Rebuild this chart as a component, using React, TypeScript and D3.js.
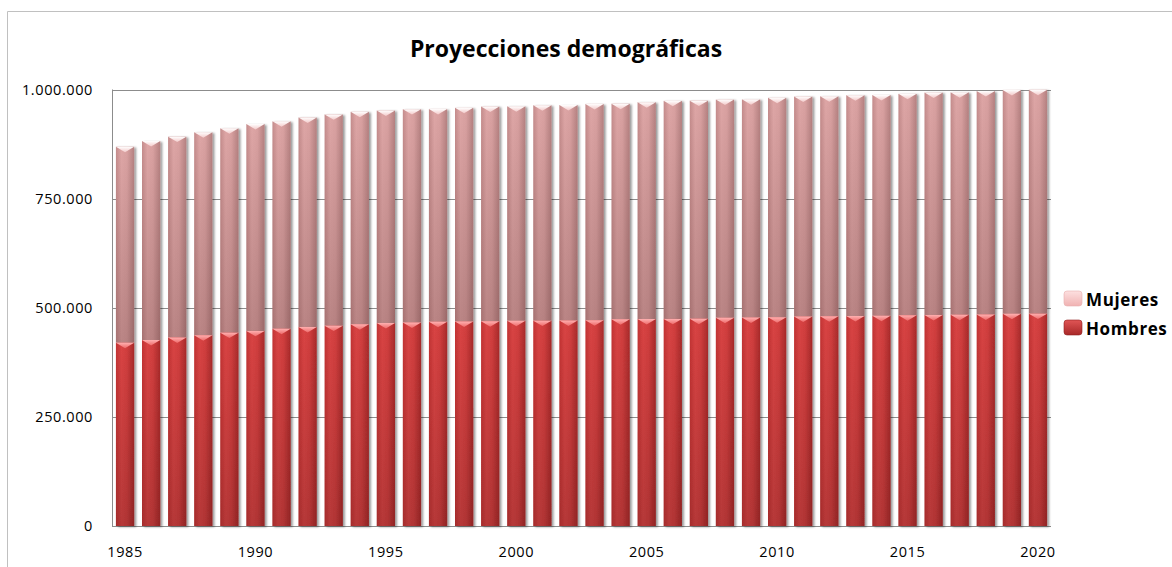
import React from "react";
import * as d3 from "d3";

const years: number[] = [
  1985, 1986, 1987, 1988, 1989, 1990, 1991, 1992, 1993, 1994, 1995, 1996,
  1997, 1998, 1999, 2000, 2001, 2002, 2003, 2004, 2005, 2006, 2007, 2008,
  2009, 2010, 2011, 2012, 2013, 2014, 2015, 2016, 2017, 2018, 2019, 2020,
];

const hombres: number[] = [
  420000, 426000, 432000, 437000, 443000, 447000, 452000, 456000, 459000, 462000, 465000, 466000,
  468000, 468500, 469000, 470000, 470500, 471000, 471500, 473500, 474000, 474500, 475000, 477000,
  477500, 478000, 480000, 480500, 481000, 481500, 483000, 483500, 484000, 484500, 486000, 486500,
];

const mujeres: number[] = [
  449000, 456000, 460000, 465000, 468000, 474000, 475000, 480000, 484000, 487000, 487000, 489000,
  487500, 489500, 492000, 491500, 493500, 493500, 495500, 494000, 497000, 499500, 499500, 500000,
  500000, 503000, 504000, 504000, 506000, 506000, 507000, 509500, 509500, 512000, 513000, 513000,
];

const yTicks: number[] = [0, 250000, 500000, 750000, 1000000];
const xTickYears: number[] = [1985, 1990, 1995, 2000, 2005, 2010, 2015, 2020];
const seriesNames: string[] = ["Mujeres", "Hombres"];
const title = "Proyecciones demográficas";

const W = 1172;
const H = 567;
const plot = { left: 112, right: 1051, top: 89.5, bottom: 526 };

const fmt = d3.formatLocale({ decimal: ",", thousands: ".", grouping: [3], currency: ["", "€"] }).format(",");

export default function App() {
  const x = d3
    .scaleBand<number>()
    .domain(years)
    .range([plot.left, plot.right])
    .paddingInner(0.3)
    .paddingOuter(0.15);
  const y = d3.scaleLinear().domain([0, 1000000]).range([plot.bottom, plot.top]);
  const bw = x.bandwidth();

  const stack = d3
    .stack<any>()
    .keys(["hombres", "mujeres"])(years.map((yr, i) => ({ year: yr, hombres: hombres[i], mujeres: mujeres[i] })));

  const font = "'Open Sans', 'Liberation Sans', sans-serif";

  return (
    <svg width={W} height={H} style={{ position: "absolute", left: 0, top: 0, background: "#fff" }}>
      <defs>
        <linearGradient id="mujH" x1="0" x2="1" y1="0" y2="0">
          <stop offset="0" stopColor="#c48c8c" />
          <stop offset="0.3" stopColor="#dea6a6" />
          <stop offset="0.6" stopColor="#d9a1a1" />
          <stop offset="1" stopColor="#b58181" />
        </linearGradient>
        <linearGradient id="homH" x1="0" x2="1" y1="0" y2="0">
          <stop offset="0" stopColor="#c23333" />
          <stop offset="0.3" stopColor="#d94444" />
          <stop offset="0.6" stopColor="#d13e3e" />
          <stop offset="1" stopColor="#a82a2a" />
        </linearGradient>
        <linearGradient id="darkV" x1="0" x2="0" y1="0" y2="1">
          <stop offset="0" stopColor="#3a1010" stopOpacity="0" />
          <stop offset="1" stopColor="#3a1010" stopOpacity="0.22" />
        </linearGradient>
        <linearGradient id="bevM" x1="0" x2="0" y1="0" y2="1">
          <stop offset="0" stopColor="#ffffff" />
          <stop offset="1" stopColor="#f3caca" />
        </linearGradient>
        <linearGradient id="bevH" x1="0" x2="0" y1="0" y2="1">
          <stop offset="0" stopColor="#ffb0b0" />
          <stop offset="1" stopColor="#ee6a6a" />
        </linearGradient>
        <linearGradient id="legM" x1="0" x2="0" y1="0" y2="1">
          <stop offset="0" stopColor="#fde0e0" />
          <stop offset="1" stopColor="#f0b2b2" />
        </linearGradient>
        <linearGradient id="legH" x1="0" x2="0" y1="0" y2="1">
          <stop offset="0" stopColor="#e05555" />
          <stop offset="1" stopColor="#a82828" />
        </linearGradient>
        <filter id="shadow" x="-30%" y="-5%" width="160%" height="110%">
          <feDropShadow dx="2" dy="1" stdDeviation="1.2" floodColor="#000" floodOpacity="0.4" />
        </filter>
      </defs>

      {/* chart outer border */}
      <line x1={7.5} x2={W} y1={11.5} y2={11.5} stroke="#c0c0c0" />
      <line x1={7.5} x2={7.5} y1={11.5} y2={H} stroke="#c0c0c0" />

      <text x={566} y={57} textAnchor="middle" fontFamily={font} fontWeight="bold" fontSize={23} fill="#000">
        {title}
      </text>

      {/* gridlines */}
      {yTicks.map((t) => (
        <line key={t} x1={plot.left} x2={plot.right} y1={Math.round(y(t)) + 0.5} y2={Math.round(y(t)) + 0.5} stroke="#8c8c8c" strokeWidth={1} />
      ))}
      <line x1={plot.left + 0.5} x2={plot.left + 0.5} y1={plot.top} y2={plot.bottom} stroke="#8c8c8c" />

      {/* bars */}
      {years.map((yr, i) => {
        const bx = x(yr)!;
        const h0 = y(stack[0][i][0]);
        const h1 = y(stack[0][i][1]);
        const m1 = y(stack[1][i][1]);
        const bev = Math.min(6, bw * 0.3);
        return (
          <g key={yr} filter="url(#shadow)">
            <rect x={bx} y={m1} width={bw} height={h1 - m1} fill="url(#mujH)" />
            <rect x={bx} y={m1} width={bw} height={h1 - m1} fill="url(#darkV)" />
            <path d={`M${bx},${m1}L${bx + bw},${m1}L${bx + bw / 2},${m1 + bev}Z`} fill="url(#bevM)" />
            <rect x={bx} y={h1} width={bw} height={h0 - h1} fill="url(#homH)" />
            <rect x={bx} y={h1} width={bw} height={h0 - h1} fill="url(#darkV)" />
            <path d={`M${bx},${h1}L${bx + bw},${h1}L${bx + bw / 2},${h1 + bev}Z`} fill="url(#bevH)" />
          </g>
        );
      })}

      {/* y axis labels */}
      {yTicks.map((t) => (
        <text key={t} x={93} y={y(t) + 5} textAnchor="end" fontFamily={font} fontSize={14.5} letterSpacing={0.6} fill="#000">
          {fmt(t)}
        </text>
      ))}

      {/* x axis labels */}
      {xTickYears.map((yr) => (
        <text key={yr} x={x(yr)! + bw / 2} y={557} textAnchor="middle" fontFamily={font} fontSize={14.5} letterSpacing={0.6} fill="#000">
          {yr}
        </text>
      ))}

      {/* legend */}
      {seriesNames.map((name, i) => (
        <g key={name} transform={`translate(1064, ${291 + i * 29})`}>
          <rect x={0} y={0} width={18} height={15} rx={3} fill={i === 0 ? "url(#legM)" : "url(#legH)"} stroke={i === 0 ? "#e8b0b0" : "#902020"} strokeWidth={0.6} />
          <text x={22} y={14.5} fontFamily={font} fontWeight="bold" fontSize={17} letterSpacing={0.6} fill="#000">
            {name}
          </text>
        </g>
      ))}
    </svg>
  );
}
